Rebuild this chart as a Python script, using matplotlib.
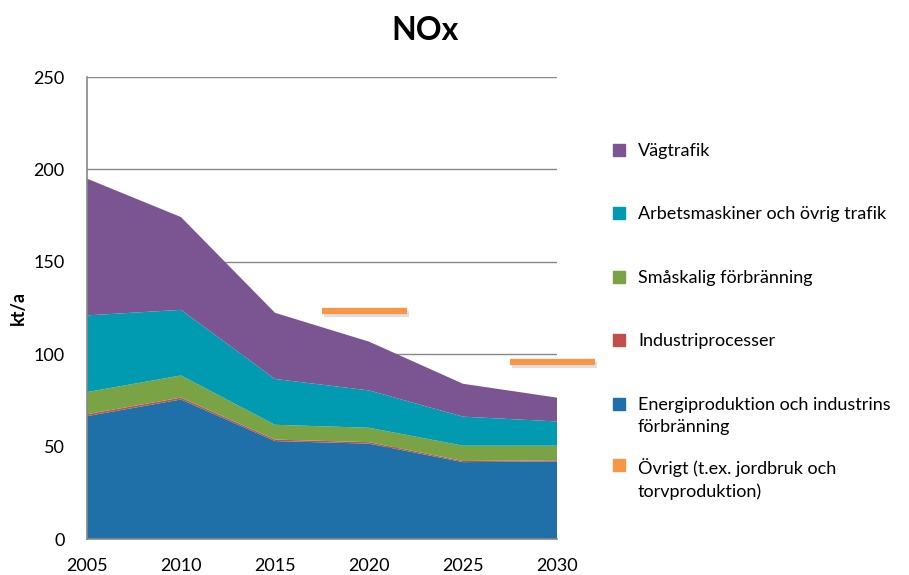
import matplotlib
matplotlib.use("Agg")
import matplotlib.pyplot as plt
from matplotlib.patches import Rectangle
import matplotlib.patheffects as pe

plt.rcParams['font.family'] = ['Lato', 'DejaVu Sans']

# kt/a per sektor
years = [2005, 2010, 2015, 2020, 2025, 2030]
energi = [66.5, 75.5, 53.0, 51.6, 41.6, 42.0]
industri = [1.0, 1.0, 0.8, 0.8, 0.6, 0.6]
smaskalig = [12.0, 12.0, 8.0, 7.8, 8.3, 7.9]
arbetsmaskiner = [41.5, 35.5, 24.8, 20.2, 15.7, 13.1]
vagtrafik = [74.0, 50.2, 35.8, 26.4, 17.8, 12.9]

# orange strecken (övrigt / mål)
mal_x = [[2017.5, 2022.0], [2027.5, 2032.0]]
mal_y = [123.4, 95.8]

labels = ["Vägtrafik", "Arbetsmaskiner och övrig trafik", "Småskalig förbränning",
          "Industriprocesser", "Energiproduktion och industrins\nförbränning",
          "Övrigt (t.ex. jordbruk och\ntorvproduktion)"]
colors = ["#7A5591", "#009AB1", "#7AA346", "#C0504D", "#1F70A8", "#F79646"]

fig = plt.figure(figsize=(9.09, 5.75), dpi=100)
ax = fig.add_axes([87 / 909, 1 - 539 / 575, 470 / 909, 462 / 575])

ax.stackplot(years, energi, industri, smaskalig, arbetsmaskiner, vagtrafik,
             colors=[colors[4], colors[3], colors[2], colors[1], colors[0]],
             linewidth=0)

for xs, y in zip(mal_x, mal_y):
    ax.plot(xs, [y, y], color=colors[5], lw=4.5, solid_capstyle='butt', clip_on=False,
            zorder=5,
            path_effects=[pe.SimpleLineShadow(offset=(1.5, -2.5), shadow_color='gray', alpha=0.25),
                          pe.Normal()])

ax.set_xlim(2005, 2030)
ax.set_ylim(0, 250)
ax.set_xticks(years)
ax.set_yticks(range(0, 251, 50))
ax.tick_params(length=0, labelsize=13)
ax.tick_params(axis='x', pad=14)
ax.tick_params(axis='y', pad=16)
ax.set_axisbelow(True)
ax.grid(axis='y', color='#888888', lw=1)
for s in ['top', 'right']:
    ax.spines[s].set_visible(False)
for s in ['left', 'bottom']:
    ax.spines[s].set_color('#888888')
    ax.spines[s].set_linewidth(1.2)

fig.text(18 / 909, 1 - 308 / 575, "kt/a", rotation=90, fontsize=13, fontweight='bold',
         ha='center', va='center')
fig.text(425 / 909, 1 - 30 / 575, "NOx", fontsize=23, fontweight='bold', ha='center', va='center')

# legend
rows = [150, 213, 277, 340, 404, 465]
for lab, col, yy in zip(labels, colors, rows):
    fig.patches.append(Rectangle((613 / 909, 1 - (yy + 6) / 575), 12 / 909, 12 / 575,
                                 transform=fig.transFigure, color=col))
    fig.text(638 / 909, 1 - (yy - 7) / 575, lab, fontsize=13, ha='left', va='top',
             linespacing=1.45)

fig.savefig("out.png", dpi=100)
